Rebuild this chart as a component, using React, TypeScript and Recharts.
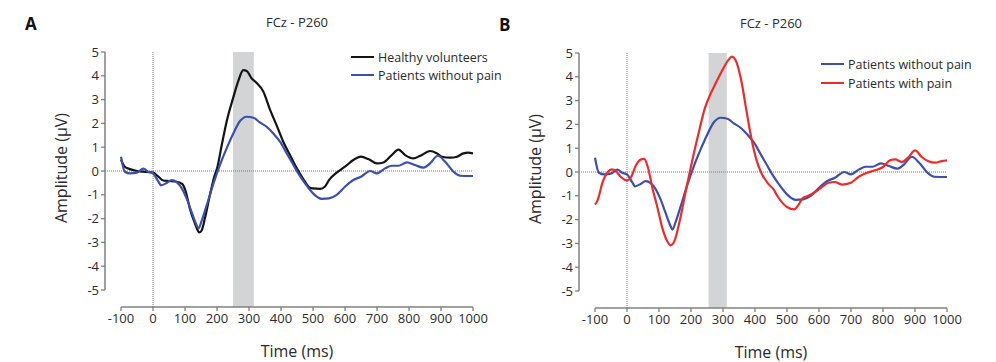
import {
  LineChart,
  Line,
  XAxis,
  YAxis,
  ReferenceLine,
  ReferenceArea,
} from "recharts";

// ERP at FCz, P260 window (shaded)
const TIME_TICKS = [-100, 0, 100, 200, 300, 400, 500, 600, 700, 800, 900, 1000];
const AMP_TICKS = [-5, -4, -3, -2, -1, 0, 1, 2, 3, 4, 5];

const healthyTime = [
  -100, -88, -72, -50, -30, 0, 17, 32, 50, 74, 92, 102, 115, 131, 145, 152, 162,
  178, 193, 200, 215, 230, 250, 267, 282, 293, 308, 324, 345, 365, 386, 407, 428,
  450, 475, 490, 500, 522, 537, 550, 574, 600, 626, 650, 673, 700, 720, 746, 767,
  788, 814, 834, 866, 887, 903, 929, 950, 970, 985, 1000,
];
const healthyAmp = [
  0.48, 0.18, 0.08, 0.0, -0.03, -0.07, -0.24, -0.4, -0.42, -0.45, -0.55, -0.85,
  -1.57, -2.2, -2.58, -2.5, -2.0, -1.0, -0.17, 0.1, 1.1, 2.07, 3.05, 3.8, 4.24,
  4.2, 3.9, 3.7, 3.33, 2.6, 1.93, 1.23, 0.67, 0.1, -0.45, -0.7, -0.73, -0.75,
  -0.66, -0.38, -0.07, 0.18, 0.46, 0.6, 0.5, 0.32, 0.36, 0.67, 0.9, 0.67, 0.53,
  0.63, 0.84, 0.74, 0.6, 0.56, 0.6, 0.74, 0.77, 0.74,
];

const noPainTime = [
  -100, -88, -72, -50, -30, -15, 0, 17, 25, 43, 58, 74, 90, 105, 120, 136, 142,
  152, 168, 189, 209, 230, 251, 272, 293, 314, 334, 355, 376, 397, 418, 439, 454,
  475, 500, 527, 550, 574, 600, 626, 650, 679, 700, 725, 746, 767, 793, 819, 845,
  866, 890, 913, 939, 960, 1000,
];
const noPainAmp = [
  0.6, -0.03, -0.1, -0.07, 0.1, -0.03, -0.1, -0.45, -0.6, -0.5, -0.38, -0.47,
  -0.73, -1.15, -1.7, -2.27, -2.42, -2.1, -1.43, -0.52, 0.25, 0.95, 1.58, 2.1,
  2.28, 2.24, 2.04, 1.86, 1.58, 1.23, 0.74, 0.25, -0.1, -0.52, -0.94, -1.17,
  -1.15, -1.0, -0.66, -0.38, -0.24, 0.0, -0.1, 0.11, 0.22, 0.22, 0.36, 0.25,
  0.14, 0.32, 0.64, 0.39, -0.03, -0.2, -0.21,
];

const painTime = [
  -100, -92, -76, -60, -48, -34, -19, 0, 13, 28, 44, 54, 65, 80, 96, 111, 127,
  136, 149, 164, 180, 195, 211, 227, 243, 259, 274, 295, 316, 328, 342, 358, 374,
  389, 405, 421, 441, 458, 472, 500, 523, 535, 550, 567, 588, 609, 630, 650, 671,
  700, 723, 750, 775, 800, 822, 838, 859, 880, 900, 921, 942, 963, 984, 1000,
];
const painAmp = [
  -1.37, -1.19, -0.42, 0.0, 0.11, 0.03, -0.21, -0.35, -0.21, 0.28, 0.53, 0.55,
  0.21, -0.7, -1.54, -2.38, -2.94, -3.08, -2.87, -2.1, -1.05, -0.07, 0.91, 1.82,
  2.66, 3.22, 3.64, 4.2, 4.69, 4.85, 4.62, 3.78, 2.52, 1.4, 0.49, -0.07, -0.49,
  -0.73, -1.05, -1.47, -1.57, -1.4, -1.09, -1.0, -0.84, -0.63, -0.45, -0.42,
  -0.53, -0.45, -0.21, -0.03, 0.07, 0.21, 0.49, 0.53, 0.42, 0.63, 0.91, 0.63,
  0.45, 0.39, 0.46, 0.49,
];

const BLACK = "#141414";
const BLUE = "#3d4fae";
const RED = "#ee2a2a";
const AXIS = "#808080";
const FONT = "'Open Sans', sans-serif";

const toPoints = (t: number[], v: number[]) => t.map((x, i) => ({ t: x, v: v[i] }));

interface Series {
  name: string;
  color: string;
  points: { t: number; v: number }[];
}

interface PanelProps {
  letter: string;
  left: number;
  top: number;
  band: [number, number];
  series: Series[];
  legendLeft: number;
  legendTop: number;
  legendGap: number;
}

const X_MIN = -150;
const Y_MIN = -5.714;

function Panel({ letter, left, top, band, series, legendLeft, legendTop, legendGap }: PanelProps) {
  return (
    <div style={{ position: "absolute", left, top, width: 498, height: 362 }}>
      <LineChart
        width={498}
        height={362}
        margin={{ top: 52, right: 25, bottom: 25, left: 65 }}
        style={{ position: "absolute", left: 0, top: 0 }}
      >
        <XAxis
          dataKey="t"
          type="number"
          domain={[X_MIN, 1000]}
          ticks={TIME_TICKS}
          interval={0}
          axisLine={false}
          tickLine={{ stroke: AXIS, strokeWidth: 1.3 }}
          tickSize={4}
          tickMargin={3}
          height={30}
          allowDataOverflow
          tick={{ fill: "#2a2a2a", fontSize: 13, fontFamily: FONT }}
        />
        <YAxis
          type="number"
          domain={[Y_MIN, 5]}
          ticks={AMP_TICKS}
          interval={0}
          axisLine={false}
          tickLine={{ stroke: AXIS, strokeWidth: 1.3 }}
          tickSize={4}
          tickMargin={2}
          width={40}
          allowDataOverflow
          tick={{ fill: "#2a2a2a", fontSize: 13, fontFamily: FONT }}
        />
        {/* offset axis lines */}
        <ReferenceLine
          segment={[{ x: X_MIN, y: -5 }, { x: X_MIN, y: 5 }]}
          stroke={AXIS}
          strokeWidth={1.5}
          ifOverflow="visible"
        />
        <ReferenceLine
          segment={[{ x: -100, y: Y_MIN }, { x: 1000, y: Y_MIN }]}
          stroke={AXIS}
          strokeWidth={1.5}
          ifOverflow="visible"
        />
        <ReferenceLine y={0} stroke="#777" strokeDasharray="1 1" />
        <ReferenceLine x={0} stroke="#777" strokeDasharray="1 1" />
        <ReferenceArea
          x1={band[0]}
          x2={band[1]}
          y1={Y_MIN}
          y2={5}
          fill="#d3d4d6"
          fillOpacity={1}
          stroke="none"
        />
        {series.map((s) => (
          <Line
            key={s.name}
            data={s.points}
            dataKey="v"
            type="monotone"
            stroke={s.color}
            strokeWidth={2.2}
            dot={false}
            isAnimationActive={false}
          />
        ))}
      </LineChart>

      <div
        style={{
          position: "absolute",
          left: 25,
          top: 12,
          fontFamily: FONT,
          fontWeight: 700,
          fontSize: 17,
          color: "#111",
        }}
      >
        {letter}
      </div>
      <div
        style={{
          position: "absolute",
          left: 121,
          width: 352,
          top: 13,
          textAlign: "center",
          fontFamily: FONT,
          fontSize: 13,
          color: "#2a2a2a",
        }}
      >
        FCz - P260
      </div>
      <div
        style={{
          position: "absolute",
          left: 121,
          width: 352,
          top: 340,
          textAlign: "center",
          fontFamily: FONT,
          fontSize: 16,
          color: "#2a2a2a",
        }}
      >
        Time (ms)
      </div>
      <div
        style={{
          position: "absolute",
          left: 61 - 100,
          top: 168 - 12,
          width: 200,
          height: 24,
          lineHeight: "24px",
          textAlign: "center",
          transform: "rotate(-90deg)",
          fontFamily: FONT,
          fontSize: 16,
          color: "#2a2a2a",
        }}
      >
        Amplitude (μV)
      </div>

      {series.map((s, i) => (
        <div
          key={`legend-${s.name}`}
          style={{
            position: "absolute",
            left: legendLeft,
            top: legendTop + i * legendGap - 9,
            height: 18,
            display: "flex",
            alignItems: "center",
            fontFamily: FONT,
            fontSize: 12.5,
            color: "#2a2a2a",
            whiteSpace: "nowrap",
          }}
        >
          <span
            style={{
              display: "inline-block",
              width: 23,
              height: 2.5,
              background: s.color,
              marginRight: 4,
            }}
          />
          {s.name}
        </div>
      ))}
    </div>
  );
}

export default function App() {
  const healthy: Series = {
    name: "Healthy volunteers",
    color: BLACK,
    points: toPoints(healthyTime, healthyAmp),
  };
  const noPain: Series = {
    name: "Patients without pain",
    color: BLUE,
    points: toPoints(noPainTime, noPainAmp),
  };
  const pain: Series = {
    name: "Patients with pain",
    color: RED,
    points: toPoints(painTime, painAmp),
  };

  return (
    <div
      style={{
        position: "absolute",
        left: 0,
        top: 0,
        width: 996,
        height: 362,
        background: "#fff",
        overflow: "hidden",
      }}
    >
      <Panel
        letter="A"
        left={0}
        top={0}
        band={[250, 315]}
        series={[healthy, noPain]}
        legendLeft={351}
        legendTop={57}
        legendGap={18}
      />
      <Panel
        letter="B"
        left={474}
        top={1}
        band={[255, 312]}
        series={[noPain, pain]}
        legendLeft={347}
        legendTop={63}
        legendGap={19}
      />
    </div>
  );
}
